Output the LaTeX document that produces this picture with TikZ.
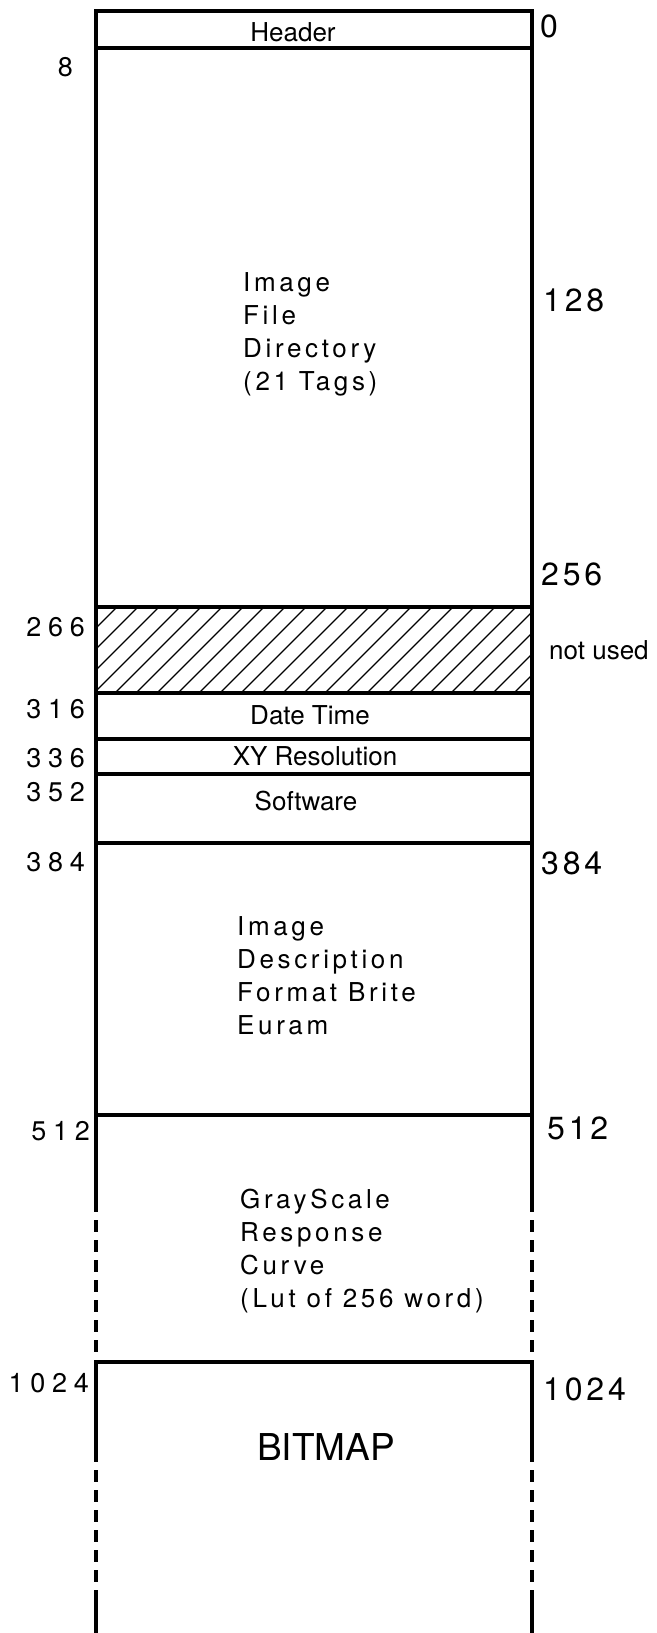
\documentclass[tikz,border=0pt]{standalone}
\usepackage{fontspec}
\setmainfont{TeX Gyre Heros}
\newfontfamily\blockfont[LetterSpace=14]{TeX Gyre Heros}
\newfontfamily\leftnumfont[LetterSpace=25]{TeX Gyre Heros}
\newfontfamily\rightnumfont[LetterSpace=12]{TeX Gyre Heros}

\begin{document}
\begin{tikzpicture}[x=1pt, y=-1pt,
		wall/.style={line width=3.3pt},
		rule/.style={line width=3.2pt},
		brokenwall/.style={line width=3.3pt, dash pattern=on 12pt off 8pt},
		hatchline/.style={line width=1.2pt},
		lbl/.style={inner sep=0pt, font=\fontsize{26}{30}\selectfont},
		block/.style={inner sep=0pt, anchor=north west, align=left, font=\blockfont\fontsize{26}{33}\selectfont},
		lnum/.style={inner sep=0pt, anchor=east, font=\leftnumfont\fontsize{27}{30}\selectfont},
		rnum/.style={inner sep=0pt, anchor=west, font=\rightnumfont\fontsize{32}{36}\selectfont}]
		
		% Page frame
		\useasboundingbox (0,0) rectangle (656,1633);
		
		% Column edges
		\def\xL{96}
		\def\xR{532}
		
		% Row boundaries (pixels from the top)
		\def\yTop{11}
		\def\yHead{48}
		\def\yHatchTop{607}
		\def\yHatchBot{693}
		\def\yDate{739}
		\def\yXY{774}
		\def\ySoft{843}
		\def\yDesc{1115}
		\def\yLut{1362}
		\def\yEnd{1633}
		
		% Hatched area (not used)
		\begin{scope}
			\clip (\xL,\yHatchTop) rectangle (\xR,\yHatchBot);
			\foreach \i in {0,...,26}
				\draw[hatchline] (\xL-86+21*\i,\yHatchBot) -- ++(100,-100);
		\end{scope}
		
		% Outer walls, solid at the top
		\draw[wall] (\xL,1200) -- (\xL,\yTop) -- (\xR,\yTop) -- (\xR,1200);
		
		% Walls lower down: solid and broken pieces
		\foreach \x in {\xL,\xR} {
			\draw[brokenwall] (\x,1200) -- (\x,\yLut);
			\draw[wall] (\x,\yLut) -- (\x,1450);
			\draw[brokenwall] (\x,1450) -- (\x,1600);
			\draw[wall] (\x,1600) -- (\x,\yEnd);
		}
		
		% Horizontal rules between the fields
		\foreach \y in {\yHead,\yHatchTop,\yHatchBot,\yDate,\yXY,\ySoft,\yDesc,\yLut}
			\draw[rule] (\xL,\y) -- (\xR,\y);
		
		% Field names
		\node[lbl] (header) at (293,32) {Header};
		\node[lbl] (datetime) at (310,715) {Date Time};
		\node[lbl] (xyres) at (315,756) {XY Resolution};
		\node[lbl] (software) at (306,801) {Software};
		\node[lbl, anchor=west] (notused) at (549,650) {not used};
		\node[lbl, font=\fontsize{37}{42}\selectfont] (bitmap) at (326,1447) {BITMAP};
		
		% Longer field descriptions
		\node[block] (ifd) at (243,272) {Image\\File\\Directory\\(21 Tags)};
		\node[block] (desc) at (237,916) {Image\\Description\\Format Brite\\Euram};
		\node[block] (lut) at (240,1189) {GrayScale\\Response\\Curve\\(Lut of 256 word)};
		
		% Offsets on the left
		\node[lnum] (l8) at (73,67) {8};
		\node[lnum] (l266) at (85,627) {266};
		\node[lnum] (l316) at (85,709) {316};
		\node[lnum] (l336) at (85,758) {336};
		\node[lnum] (l352) at (85,792) {352};
		\node[lnum] (l384) at (85,862) {384};
		\node[lnum] (l512) at (90,1131) {512};
		\node[lnum] (l1024) at (89,1383) {1024};
		
		% Offsets on the right
		\node[rnum] (r0) at (540,26) {0};
		\node[rnum] (r128) at (543,300) {128};
		\node[rnum] (r256) at (541,574) {256};
		\node[rnum] (r384) at (541,863) {384};
		\node[rnum] (r512) at (547,1128) {512};
		\node[rnum] (r1024) at (543,1389) {1024};
		
	\end{tikzpicture}
\end{document}
